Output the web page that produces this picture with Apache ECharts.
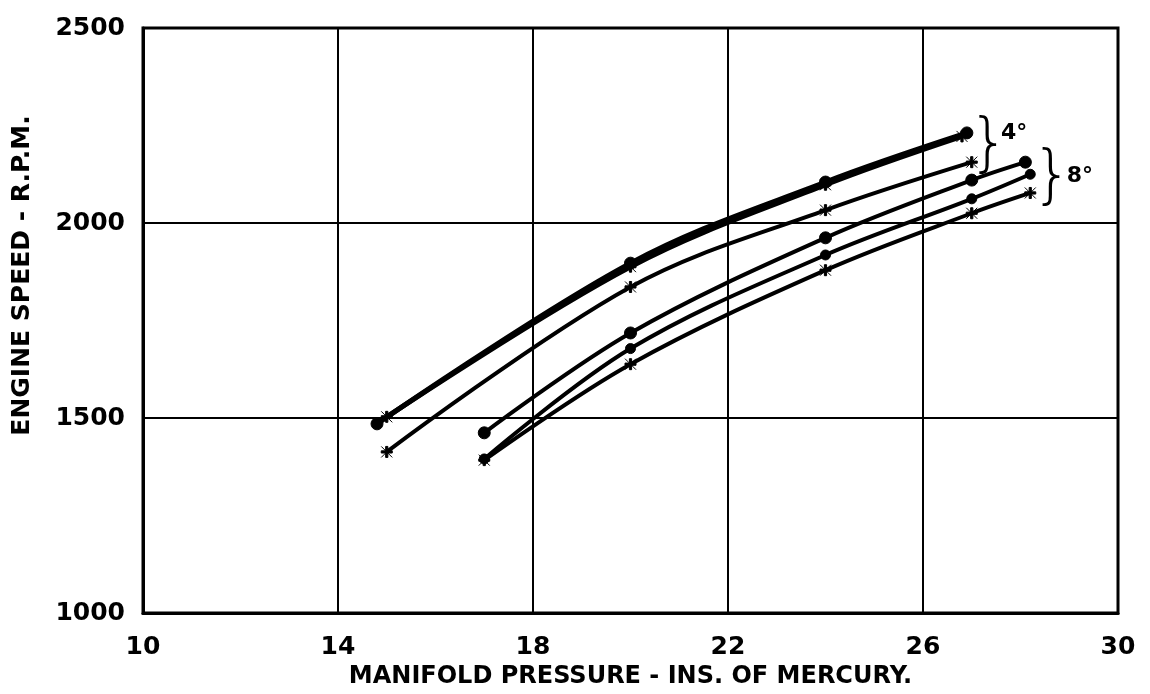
<!DOCTYPE html>
<html>
<head>
<meta charset="utf-8">
<script src="https://cdn.jsdelivr.net/npm/echarts@6/dist/echarts.min.js"></script>
<style>html,body{margin:0;padding:0;background:#fff}#c{width:1150px;height:694px}</style>
</head>
<body>
<div id="c"></div>
<script>
// Manifold pressure (in. Hg) vs engine speed (r.p.m.)
const xTicks = [10, 14, 18, 22, 26, 30];
const yTicks = [1000, 1500, 2000, 2500];

// 4 degree group
const a4_x = [14.8, 20, 24, 26.9];
const a4_y = [1485, 1897, 2105, 2231];
const b4_x = [15, 20, 24, 26.8];
const b4_y = [1503, 1888, 2098, 2222];
const c4_x = [15, 20, 24, 27];
const c4_y = [1413, 1836, 2033, 2156];

// 8 degree group
const d8_x = [17, 20, 24, 27, 28.1];
const d8_y = [1462, 1718, 1962, 2110, 2156];
const e8_x = [17, 20, 24, 27, 28.2];
const e8_y = [1395, 1678, 1918, 2062, 2125];
const f8_x = [17, 20, 24, 27, 28.2];
const f8_y = [1392, 1638, 1879, 2025, 2077];

const labels = { g4: '4°', g8: '8°' };

const CROSS = 'path://M0,0 L10,10 M10,0 L0,10 M4,0 L6,0 L6,4 L10,4 L10,6 L6,6 L6,10 L4,10 L4,6 L0,6 L0,4 L4,4 Z';

function pts(xs, ys) { return xs.map((x, i) => [x, ys[i]]); }
function mk(name, xs, ys, sym, size, width) {
  return {
    name, type: 'line', smooth: 0.35, data: pts(xs, ys),
    symbol: sym, symbolSize: size, showSymbol: true,
    lineStyle: { color: '#000', width: width },
    itemStyle: { color: '#000', borderColor: '#000' },
    animation: false, z: 3
  };
}

const font = '"DejaVu Sans", sans-serif';
const chart = echarts.init(document.getElementById('c'));
chart.setOption({
  backgroundColor: '#fff',
  animation: false,
  grid: { left: 143, right: 32, top: 28, bottom: 81, show: true, borderColor: '#000', borderWidth: 3,
    containLabel: false, outerBoundsMode: 'none' },
  xAxis: {
    type: 'value', min: 10, max: 30, interval: 4,
    name: 'MANIFOLD PRESSURE - INS. OF MERCURY.',
    nameLocation: 'middle', nameGap: 48,
    nameTextStyle: { fontFamily: font, fontWeight: 'bold', fontSize: 24, color: '#000' },
    axisLine: { show: true, lineStyle: { color: '#000', width: 3 } },
    axisTick: { show: false },
    splitLine: { show: true, lineStyle: { color: '#000', width: 2 } },
    axisLabel: { fontFamily: font, fontWeight: 'bold', fontSize: 25, color: '#000', margin: 22,
      formatter: v => xTicks.includes(v) ? String(v) : '' }
  },
  yAxis: {
    type: 'value', min: 1000, max: 2500, interval: 500,
    name: 'ENGINE SPEED - R.P.M.',
    nameLocation: 'middle', nameGap: 108, nameRotate: 90,
    nameTextStyle: { fontFamily: font, fontWeight: 'bold', fontSize: 25, color: '#000', padding: [0, 0, 0, 90] },
    axisLine: { show: true, lineStyle: { color: '#000', width: 3 } },
    axisTick: { show: false },
    splitLine: { show: true, lineStyle: { color: '#000', width: 2 } },
    axisLabel: { fontFamily: font, fontWeight: 'bold', fontSize: 25, color: '#000', margin: 18,
      formatter: v => yTicks.includes(v) ? String(v) : '' }
  },
  series: [
    mk('4° a', a4_x, a4_y, 'circle', 12, 5),
    mk('4° b', b4_x, b4_y, CROSS, 11, 5),
    mk('4° c', c4_x, c4_y, CROSS, 11, 4),
    mk('8° d', d8_x, d8_y, 'circle', 12, 4),
    mk('8° e', e8_x, e8_y, 'circle', 10, 4),
    mk('8° f', f8_x, f8_y, CROSS, 11, 4)
  ]
});

function px(x, y) { return chart.convertToPixel({ gridIndex: 0 }, [x, y]); }
const b4 = px(27.35, 2195), b8 = px(28.65, 2112);
const l4 = px(27.6, 2230), l8 = px(28.95, 2120);
chart.setOption({
  graphic: [
    { type: 'text', x: b4[0], y: b4[1], style: { text: '}', font: '300 64px ' + font, fill: '#000', align: 'center', verticalAlign: 'middle' } },
    { type: 'text', x: l4[0], y: l4[1], style: { text: labels.g4, font: 'bold 22px ' + font, fill: '#000', align: 'left', verticalAlign: 'middle' } },
    { type: 'text', x: b8[0], y: b8[1], style: { text: '}', font: '300 64px ' + font, fill: '#000', align: 'center', verticalAlign: 'middle' } },
    { type: 'text', x: l8[0], y: l8[1], style: { text: labels.g8, font: 'bold 22px ' + font, fill: '#000', align: 'left', verticalAlign: 'middle' } }
  ]
});
</script>
</body>
</html>
